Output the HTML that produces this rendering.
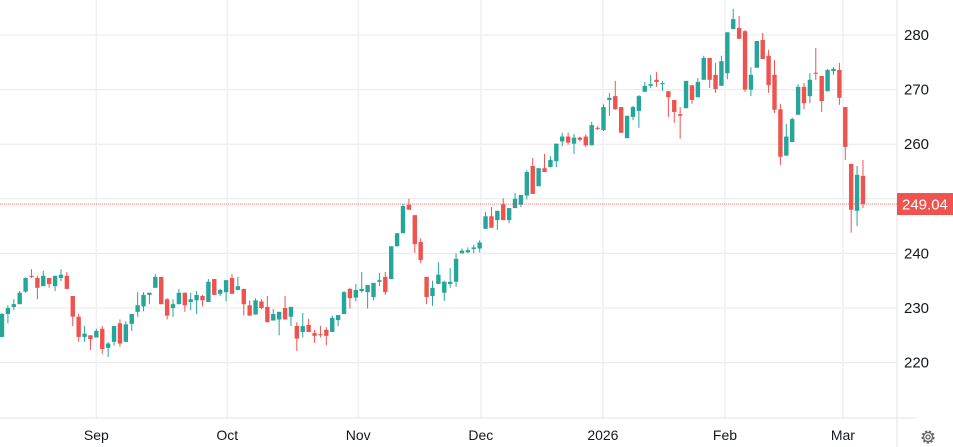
<!DOCTYPE html>
<html><head><meta charset="utf-8"><style>
html,body{margin:0;padding:0;background:#fff;}
svg{display:block;font-family:"Liberation Sans",sans-serif;}
</style></head><body>
<svg id="chart" width="953" height="447" xmlns="http://www.w3.org/2000/svg">
<g id="grid"></g>
<g id="candles"></g>
<g id="axes"></g>
<g transform="translate(928,437)">
<circle r="5.5" fill="none" stroke="#666" stroke-width="2.2" stroke-dasharray="2.2 1.6"/>
<circle r="4.5" fill="none" stroke="#666" stroke-width="1.3"/>
<circle r="2" fill="none" stroke="#666" stroke-width="1.3"/>
</g>
</svg>
<script>
const opens=[224.7,228.9,230.2,230.7,233.0,235.9,235.5,234.0,235.5,234.0,235.5,235.9,232.2,228.4,224.7,225.0,224.6,226.2,222.7,223.8,227.2,223.8,227.1,229.3,230.3,
232.4,233.7,235.7,231.6,230.0,230.7,232.8,231.1,231.4,232.2,231.1,235.3,232.6,232.9,235.5,233.3,233.5,230.5,228.8,231.2,230.2,227.7,227.9,230.0,228.4,
226.7,225.6,226.9,225.4,225.2,226.0,225.6,227.8,228.9,233.5,231.9,233.1,232.9,232.0,234.8,235.7,235.3,241.3,243.7,248.9,247.0,242.1,235.7,232.2,234.4,232.8,234.4,234.8,
240.0,240.2,240.8,240.9,244.5,246.8,246.1,249.0,246.1,248.3,248.9,250.6,256.0,252.3,255.6,255.8,256.9,260.5,261.4,260.1,261.2,261.4,259.8,263.0,262.6,268.1,
268.8,266.8,261.1,265.0,266.1,269.6,270.7,271.8,271.0,269.7,268.1,265.5,266.6,270.8,268.6,271.8,275.8,272.7,270.7,273.0,281.1,281.3,280.7,270.0,
274.0,279.1,276.2,272.7,266.4,257.9,260.4,265.4,270.5,268.8,273.1,272.5,269.7,273.4,273.6,266.8,256.4,247.8,254.2];
const highs=[229.1,230.5,231.6,233.1,235.6,237.1,235.9,236.8,235.5,235.9,237.1,236.6,232.2,228.9,226.7,225.0,226.2,226.7,223.8,226.7,227.9,227.6,228.9,232.9,232.9,
232.8,236.2,235.7,231.8,231.6,233.5,232.8,232.8,233.1,232.4,235.3,235.3,233.5,235.1,236.2,235.7,233.5,231.4,231.8,231.6,232.2,229.8,229.3,232.2,230.2,
227.4,229.1,228.0,226.0,226.7,226.5,228.6,228.7,233.1,233.7,234.4,236.6,234.2,234.6,236.4,236.6,241.3,243.7,249.1,250.0,247.0,242.8,235.7,235.0,238.4,235.0,237.3,240.0,
240.9,241.1,241.6,242.4,247.6,248.5,247.8,250.1,248.3,251.1,250.7,255.2,257.5,255.6,258.2,257.8,260.1,262.1,262.1,261.9,261.4,261.8,264.1,263.3,267.3,269.4,
271.6,266.8,265.2,267.0,269.0,271.4,272.7,273.2,271.6,269.7,268.1,266.8,271.6,270.8,272.1,276.2,275.8,274.9,276.2,280.5,284.8,283.5,280.9,274.1,
278.9,280.4,277.3,275.4,267.4,263.7,264.9,271.0,271.2,273.0,277.6,272.5,273.8,274.1,274.9,266.8,256.4,256.0,257.1];
const lows=[224.6,227.2,229.6,230.7,232.8,235.5,231.6,234.0,233.7,233.1,234.9,233.5,226.7,223.8,223.8,222.3,224.6,221.6,221.0,223.1,222.9,223.8,225.8,228.4,229.4,
230.7,233.7,230.7,227.9,228.4,230.7,229.3,229.6,228.9,230.3,231.1,232.4,232.2,231.2,232.6,233.3,228.6,228.6,228.8,229.8,227.4,227.7,225.0,227.9,226.7,
222.1,224.6,225.6,223.6,224.6,223.2,225.6,226.7,228.9,229.9,231.2,232.8,229.9,231.4,234.0,232.4,235.3,241.3,243.7,248.0,240.1,238.2,230.7,230.4,234.4,231.3,233.7,233.9,
240.0,240.0,240.0,240.2,244.5,244.7,244.3,246.1,245.5,248.3,248.5,249.9,250.9,252.3,254.9,255.8,255.8,259.6,259.9,258.2,260.5,259.5,259.8,262.6,262.4,265.2,
266.3,262.1,261.1,264.4,263.0,269.6,270.3,270.5,269.7,265.0,263.9,261.0,266.6,267.4,268.6,271.8,270.3,269.4,270.7,271.9,281.1,279.3,269.6,268.8,
274.0,275.6,269.4,265.7,256.2,257.9,260.4,265.4,266.4,267.5,271.8,265.9,269.7,272.7,267.2,257.1,243.8,245.0,248.3];
const closes=[228.9,230.0,230.7,232.8,235.5,235.7,233.7,235.9,234.4,235.9,236.1,233.5,228.4,224.7,225.3,224.3,225.8,222.5,223.5,226.7,223.5,227.0,228.9,230.5,232.4,
232.8,235.7,230.7,228.6,230.7,232.8,230.5,231.6,232.4,231.4,234.8,232.4,233.3,235.1,232.6,234.0,230.7,228.6,231.4,230.0,227.4,228.9,229.3,227.9,230.2,
224.4,226.7,225.6,224.9,225.1,224.9,228.2,228.7,232.9,231.8,233.3,233.5,234.2,234.6,235.1,232.9,241.3,243.7,248.7,248.0,241.7,238.8,232.0,233.7,236.1,234.8,234.8,239.0,
240.5,240.6,241.1,242.0,246.8,244.7,247.8,246.1,248.3,250.0,250.7,254.9,250.9,255.6,254.9,257.1,260.1,261.4,260.3,261.2,260.8,259.8,263.5,262.9,266.8,268.5,
266.4,262.1,265.2,266.8,268.8,270.7,271.0,271.4,271.2,268.6,265.9,265.2,271.6,268.1,271.4,275.8,271.8,270.1,275.2,280.5,282.9,279.3,270.0,272.7,
278.9,275.6,270.8,266.3,257.7,261.4,264.6,270.5,267.5,271.8,272.9,267.9,273.6,273.8,268.5,259.5,248.0,254.4,249.04];
const yTicks=[220,230,240,250,260,270,280];
const monthLabels=["Sep","Oct","Nov","Dec","2026","Feb","Mar"];
const monthIdx=[16,38.2,60.4,81.2,101.9,122.6,142.6];
const lastPrice=249.04;

const NS="http://www.w3.org/2000/svg";
const plotR=897, plotB=418;
function yS(v){return 35+(280-v)*5.46;}
function xS(i){return 2+i*5.897;}
function mk(tag,attrs,parent){const e=document.createElementNS(NS,tag);for(const k in attrs)e.setAttribute(k,attrs[k]);parent.appendChild(e);return e;}
const grid=document.getElementById('grid'),cg=document.getElementById('candles'),ax=document.getElementById('axes');

yTicks.forEach(t=>{
  const l=mk('line',{x1:0,x2:plotR,y1:yS(t),y2:yS(t),stroke:'#e8e8e8','stroke-width':1},grid);
  
  
  const tx=mk('text',{x:904,y:yS(t)+5,'font-size':15,fill:'#131722'},ax);
  tx.textContent=t;
  
  
});
monthIdx.forEach((m,k)=>{
  const x=xS(m);
  const l=mk('line',{x1:x,x2:x,y1:0,y2:plotB,stroke:'#eef0f3','stroke-width':1.5},grid);
  
  
  const tx=mk('text',{x:x,y:440,'font-size':14,fill:'#131722','text-anchor':'middle'},ax);
  tx.textContent=monthLabels[k];
  
  
});
const bl=mk('line',{x1:0,x2:plotR+20,y1:plotB,y2:plotB,stroke:'#e0e3eb','stroke-width':1},ax);


const rl=mk('line',{x1:plotR,x2:plotR,y1:0,y2:447,stroke:'#e0e3eb','stroke-width':1},ax);



opens.forEach((o,i)=>{
  const c=closes[i],up=c>=o,col=up?'#26a69a':'#ef5350',x=xS(i);
  const g=mk('g',{},cg);
  
  
  mk('line',{x1:x,x2:x,y1:yS(highs[i]),y2:yS(lows[i]),stroke:col,'stroke-width':1},g);
  const top=yS(Math.max(o,c)),h=Math.max(1,Math.abs(yS(o)-yS(c)));
  mk('rect',{x:x-2.2,y:top,width:4.4,height:h,fill:col},g);
});

const py=yS(lastPrice);
const pl=mk('line',{x1:0,x2:plotR,y1:py,y2:py,stroke:'#ef5350','stroke-width':1,'stroke-dasharray':'1 1',opacity:0.8},ax);


const pb=mk('rect',{x:plotR,y:py-11,width:56,height:22,fill:'#ef5350'},ax);


const pt=mk('text',{x:plotR+5,y:py+5.5,'font-size':15,fill:'#fff'},ax);
pt.textContent=lastPrice.toFixed(2);


</script>
</body></html>
